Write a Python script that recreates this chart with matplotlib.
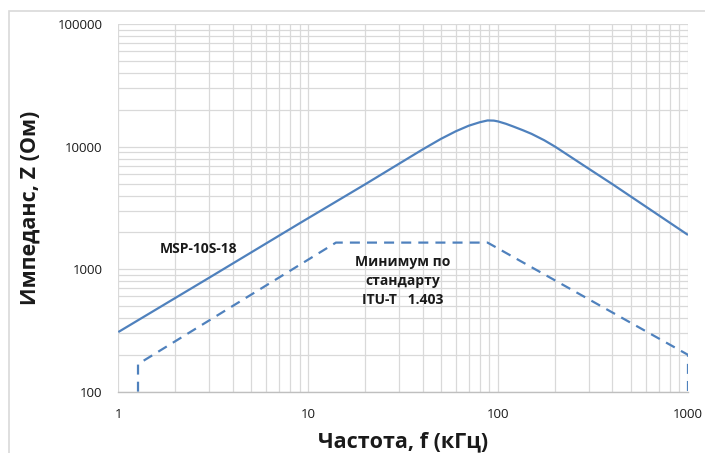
import matplotlib
matplotlib.use("Agg")
import matplotlib.pyplot as plt
from matplotlib.patches import Rectangle
from matplotlib.ticker import LogLocator, FixedLocator, FixedFormatter, NullFormatter

plt.rcParams['font.family'] = ['Open Sans', 'DejaVu Sans']

# Impedance of MSP-10S-18 versus frequency
freq_msp = [1, 3, 9, 20, 30, 40, 50, 60, 70, 80, 88, 95, 100, 110, 120, 135, 150, 175, 200, 300, 400, 1000]
z_msp = [307, 850, 2370, 4950, 7250, 9500, 11600, 13400, 14850, 15850, 16400, 16350, 16100, 15400, 14650, 13650, 12750, 11300, 10000, 6620, 4950, 1905]

# ITU-T I.403 minimum impedance mask
freq_min = [1.27, 1.27, 14, 88, 1000, 1000]
z_min = [100, 168, 1650, 1650, 200, 100]

x_ticks = [1, 10, 100, 1000]
x_labels = ["1", "10", "100", "1000"]
y_ticks = [100, 1000, 10000, 100000]
y_labels = ["100", "1000", "10000", "100000"]

line_color = "#4F81BD"
grid_color = "#D9D9D9"
text_color = "#1a1a1a"

fig = plt.figure(figsize=(7.05, 4.53), dpi=100)
fig.patches.append(Rectangle((9 / 705, -0.1), 1.2, 1 - 11 / 453 + 0.1,
                             transform=fig.transFigure, fill=False,
                             edgecolor=grid_color, linewidth=1.2))

ax = fig.add_axes([118.3 / 705, 1 - 391.7 / 453, (688 - 118.3) / 705, (391.7 - 24.3) / 453])
ax.set_xscale("log")
ax.set_yscale("log")
ax.set_xlim(1, 1000)
ax.set_ylim(100, 100000)

ax.plot(freq_msp, z_msp, color=line_color, linewidth=1.6, solid_capstyle="butt",
        solid_joinstyle="round")
ax.plot(freq_min, z_min, color=line_color, linewidth=1.6, linestyle=(0, (4.5, 3.2)))

ax.xaxis.set_major_locator(FixedLocator(x_ticks))
ax.xaxis.set_major_formatter(FixedFormatter(x_labels))
ax.yaxis.set_major_locator(FixedLocator(y_ticks))
ax.yaxis.set_major_formatter(FixedFormatter(y_labels))
ax.xaxis.set_minor_locator(LogLocator(base=10, subs=range(2, 10)))
ax.yaxis.set_minor_locator(LogLocator(base=10, subs=range(2, 10)))
ax.xaxis.set_minor_formatter(NullFormatter())
ax.yaxis.set_minor_formatter(NullFormatter())

ax.grid(True, which="both", color=grid_color, linewidth=0.9)
ax.set_axisbelow(True)
ax.tick_params(which="both", length=0, labelsize=9.5, colors=text_color)
ax.tick_params(axis="x", pad=12)
ax.tick_params(axis="y", pad=11.5)
for side in ("top", "right", "left"):
    ax.spines[side].set_visible(False)
ax.spines["bottom"].set_color("#BFBFBF")
ax.spines["bottom"].set_linewidth(1.0)

ax.set_xlabel("Частота, f (кГц)", fontsize=15.5, fontweight="bold", color=text_color, labelpad=7)
ax.set_ylabel("Импеданс, Z (Ом)", fontsize=15.5, fontweight="bold", color=text_color, labelpad=12)

ax.text(2.66, 1465, "MSP-10S-18", fontsize=10, fontweight="bold", color=text_color,
        ha="center", va="center")
ax.text(31.3, 803, "Минимум по\nстандарту\nITU-T   1.403", fontsize=10, fontweight="bold",
        color=text_color, ha="center", va="center", linespacing=1.45)

fig.savefig("out.png", dpi=100)
